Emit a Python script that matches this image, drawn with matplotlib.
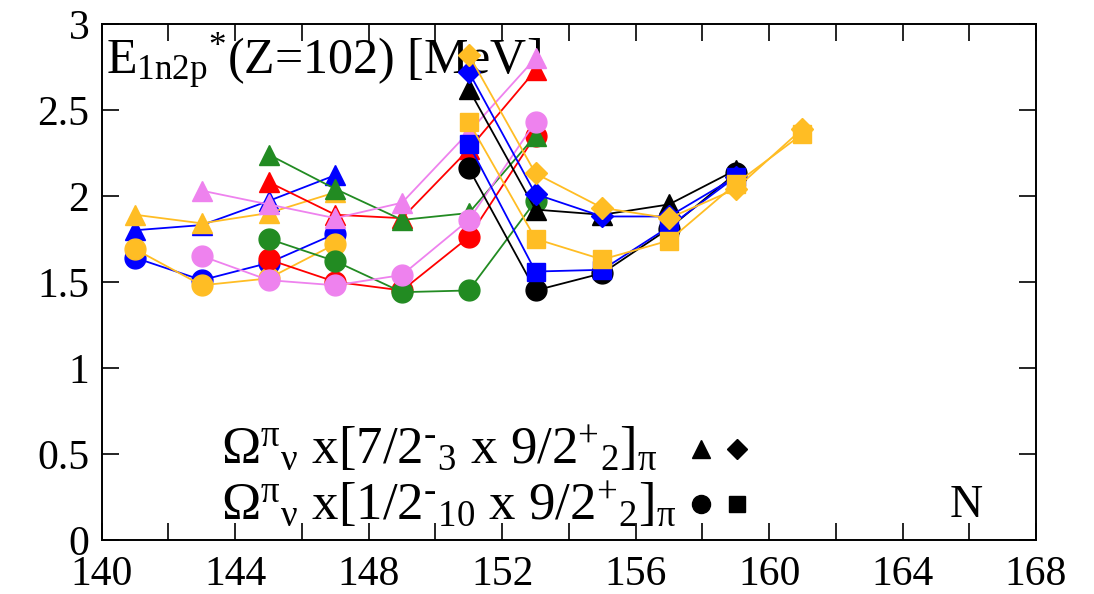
import numpy as np
import matplotlib.pyplot as plt

plt.rcParams['font.family'] = ['Liberation Serif', 'DejaVu Serif']
plt.rcParams['mathtext.fontset'] = 'custom'
plt.rcParams['mathtext.rm'] = 'Liberation Serif'
plt.rcParams['mathtext.it'] = 'Liberation Serif:italic'
plt.rcParams['mathtext.bf'] = 'Liberation Serif:bold'

nan = np.nan
N = [141, 143, 145, 147, 149, 151, 153, 155, 157, 159, 161]

# upper configuration: triangles (N<=149) / diamonds (N>=151 for blue, gold)
blue_up = [1.80, 1.83, 1.97, 2.12, nan, 2.72, 2.01, 1.88, 1.88, 2.11, nan]
gold_up = [1.89, 1.84, 1.90, 2.02, nan, 2.82, 2.13, 1.93, 1.87, 2.04, 2.39]
black_up = [nan, nan, nan, nan, nan, 2.62, 1.92, 1.89, 1.95, 2.15, nan]
red_up = [nan, nan, 2.08, 1.89, 1.87, 2.27, 2.73, nan, nan, nan, nan]
green_up = [nan, nan, 2.24, 2.04, 1.86, 1.90, 2.35, nan, nan, nan, nan]
violet_up = [nan, 2.03, 1.95, 1.87, 1.96, 2.37, 2.80, nan, nan, nan, nan]

# lower configuration: circles / squares
blue_lo = [1.64, 1.51, 1.61, 1.78, nan, 2.30, 1.56, 1.57, 1.82, 2.11, nan]
gold_lo = [1.69, 1.48, 1.52, 1.72, nan, 2.43, 1.75, 1.63, 1.74, 2.07, 2.36]
black_lo = [nan, nan, nan, nan, nan, 2.16, 1.45, 1.55, 1.81, 2.13, nan]
red_lo = [nan, nan, 1.63, 1.50, 1.45, 1.76, 2.35, nan, nan, nan, nan]
green_lo = [nan, nan, 1.75, 1.62, 1.44, 1.45, 1.97, nan, nan, nan, nan]
violet_lo = [nan, 1.65, 1.51, 1.48, 1.54, 1.86, 2.43, nan, nan, nan, nan]

colors = {'blue': '#0000ff', 'gold': '#ffbd24', 'black': '#000000',
          'red': '#ff0000', 'green': '#228b22', 'violet': '#ee82ee'}

fig = plt.figure(figsize=(10.94, 5.94), dpi=100)
ax = fig.add_axes([0.093, 0.091, 0.854, 0.869])

N_arr = np.array(N)
ms = {'^': 15, 'o': 15, 'D': 11, 's': 13}


def draw(vals, color, marker, alt_marker, z, zalt=None, split=151):
    v = np.array(vals, dtype=float)
    zalt = z if zalt is None else zalt
    left = N_arr < split
    # line pieces drawn with the marker family they belong to
    ax.plot(N_arr[left], v[left], '-', color=color, lw=1.3, zorder=z)
    ax.plot(N_arr[N_arr >= split - 2], v[N_arr >= split - 2], '-',
            color=color, lw=1.3, zorder=zalt)
    ax.plot(N_arr[left], v[left], ls='none', marker=marker, ms=ms[marker],
            color=color, mec=color, zorder=z + 0.5)
    ax.plot(N_arr[~left], v[~left], ls='none', marker=alt_marker,
            ms=ms[alt_marker], color=color, mec=color, zorder=zalt + 0.5)


draw(blue_up, colors['blue'], '^', 'D', 2, 9)
draw(blue_lo, colors['blue'], 'o', 's', 2, 9)
draw(gold_up, colors['gold'], '^', 'D', 3, 10)
draw(gold_lo, colors['gold'], 'o', 's', 3, 10)
draw(red_up, colors['red'], '^', '^', 4)
draw(red_lo, colors['red'], 'o', 'o', 4)
draw(green_up, colors['green'], '^', '^', 5)
draw(green_lo, colors['green'], 'o', 'o', 5)
draw(violet_up, colors['violet'], '^', '^', 6)
draw(violet_lo, colors['violet'], 'o', 'o', 6)
draw(black_up, colors['black'], '^', '^', 7)
draw(black_lo, colors['black'], 'o', 'o', 7)

ax.set_xlim(140, 168)
ax.set_ylim(0, 3)
ax.set_xticks(np.arange(140, 169, 4))
ax.set_xticks(np.arange(140, 169, 2), minor=True)
ax.set_yticks(np.arange(0, 3.01, 0.5))
ax.set_yticklabels(['0', '0.5', '1', '1.5', '2', '2.5', '3'])
ax.tick_params(which='both', direction='in', top=True, right=True,
               labelsize=30, width=1.2)
ax.tick_params(axis='x', pad=11)
ax.tick_params(axis='y', pad=9)
ax.tick_params(which='major', length=12)
ax.tick_params(which='minor', length=12)
for s in ax.spines.values():
    s.set_linewidth(1.4)

ax.text(0.005, 0.984, r'E$_{\mathrm{1n2p}}{}^{*}$(Z=102) [MeV]',
        transform=ax.transAxes, fontsize=36, va='top', ha='left', zorder=1)

hy = '\u2010'
ax.text(0.128, 0.175,
        r'$\mathrm{Ω}^{\mathrm{π}}{}_{\mathrm{ν}}$ x[7/2$^{' + hy + r'}{}_{3}$ x 9/2$^{+}{}_{2}$]$_{\mathrm{π}}$',
        transform=ax.transAxes, fontsize=38, va='center', ha='left')
ax.text(0.128, 0.068,
        r'$\mathrm{Ω}^{\mathrm{π}}{}_{\mathrm{ν}}$ x[1/2$^{' + hy + r'}{}_{10}$ x 9/2$^{+}{}_{2}$]$_{\mathrm{π}}$',
        transform=ax.transAxes, fontsize=38, va='center', ha='left')
ax.plot([0.641], [0.177], '^', color='k', ms=13, transform=ax.transAxes)
ax.plot([0.680], [0.177], 'D', color='k', ms=10, transform=ax.transAxes)
ax.plot([0.641], [0.07], 'o', color='k', ms=13, transform=ax.transAxes)
ax.plot([0.680], [0.07], 's', color='k', ms=11, transform=ax.transAxes)

ax.text(165.9, 0.2, 'N', fontsize=33, ha='center', va='center')

fig.savefig('out.png', dpi=100)
